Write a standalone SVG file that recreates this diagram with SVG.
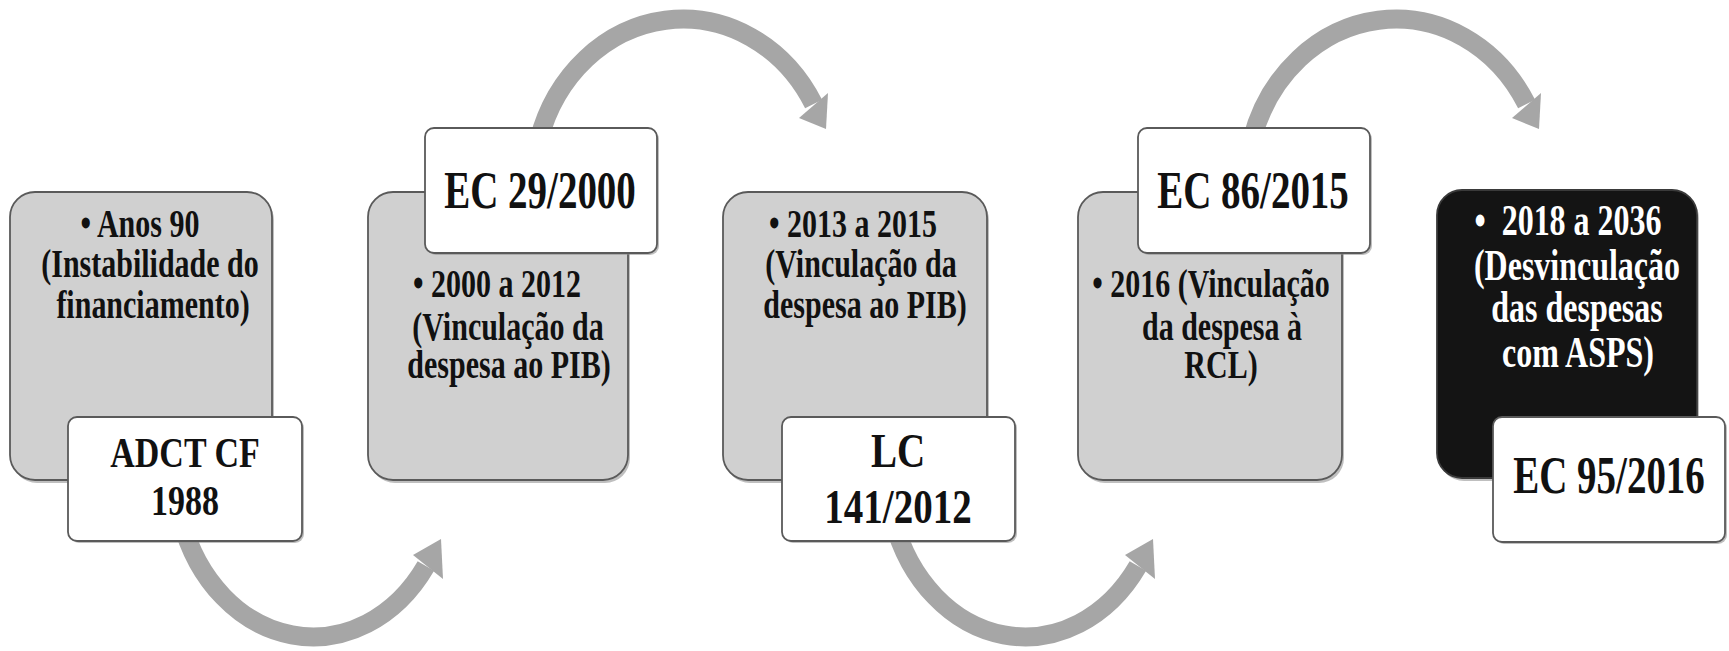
<svg xmlns="http://www.w3.org/2000/svg" width="1729" height="651" viewBox="0 0 1729 651">
<style>
.bg{fill:#ffffff}
.arc{fill:none;stroke:#a6a6a6;stroke-width:19}
.head{fill:#a6a6a6}
.gray{fill:#d0d0d0;stroke:#5a5a5a;stroke-width:1.8}
.dark{fill:#141414;stroke:#3a3a3a;stroke-width:1.8}
.white{fill:#ffffff;stroke:#5a5a5a;stroke-width:1.8}
.sh{fill:#8a8a8a;opacity:0.55}
.t{font-family:"Liberation Serif","Times New Roman",serif;font-weight:bold;text-anchor:middle;fill:#111111}
.tw{font-family:"Liberation Serif","Times New Roman",serif;font-weight:bold;text-anchor:middle;fill:#ffffff}
</style>
<rect class="bg" x="0" y="0" width="1729" height="651"/>
<g id="connectors">
  <path class="arc" d="M181.4,520 A138,167 0 0,0 425.9,566"/>
  <polygon class="head" points="413,555 441,539 443,579"/>
  <path class="arc" d="M538.8,140 A150,167 0 0,1 813.6,104"/>
  <polygon class="head" points="799,118 826,129 828,93"/>
  <path class="arc" d="M893.4,520 A138,167 0 0,0 1137.9,566"/>
  <polygon class="head" points="1125,555 1153,539 1155,579"/>
  <path class="arc" d="M1251.8,140 A150,167 0 0,1 1526.6,104"/>
  <polygon class="head" points="1512,118 1539,129 1541,93"/>
</g>
<g id="node1">
  <rect class="sh" x="12" y="195" width="262" height="288" rx="25"/>
  <rect class="gray" x="10" y="192" width="262" height="288" rx="25"/>
  <text class="t" font-size="30" transform="translate(140,237) scale(1,1.36)">• Anos 90</text>
  <text class="t" font-size="30" transform="translate(150,277) scale(1,1.36)">(Instabilidade do</text>
  <text class="t" font-size="30" transform="translate(153,318) scale(1,1.36)">financiamento)</text>
</g>
<g id="node1b">
  <rect class="sh" x="70" y="419" width="234" height="124" rx="9"/>
  <rect class="white" x="68" y="417" width="234" height="124" rx="9"/>
  <text class="t" font-size="34" transform="translate(185,467) scale(1,1.26)">ADCT CF</text>
  <text class="t" font-size="34" transform="translate(185,515) scale(1,1.26)">1988</text>
</g>
<g id="node2">
  <rect class="sh" x="370" y="195" width="260" height="288" rx="25"/>
  <rect class="gray" x="368" y="192" width="260" height="288" rx="25"/>
  <text class="t" font-size="30" transform="translate(497,297) scale(1,1.36)">• 2000 a 2012</text>
  <text class="t" font-size="30" transform="translate(508,340) scale(1,1.36)">(Vinculação da</text>
  <text class="t" font-size="30" transform="translate(509,378) scale(1,1.36)">despesa ao PIB)</text>
</g>
<g id="node2b">
  <rect class="sh" x="427" y="130" width="232" height="125" rx="9"/>
  <rect class="white" x="425" y="128" width="232" height="125" rx="9"/>
  <text class="t" font-size="39" transform="translate(540,208) scale(1,1.36)">EC 29/2000</text>
</g>
<g id="node3">
  <rect class="sh" x="725" y="195" width="264" height="288" rx="25"/>
  <rect class="gray" x="723" y="192" width="264" height="288" rx="25"/>
  <text class="t" font-size="30" transform="translate(853,237) scale(1,1.36)">• 2013 a 2015</text>
  <text class="t" font-size="30" transform="translate(861,277) scale(1,1.36)">(Vinculação da</text>
  <text class="t" font-size="30" transform="translate(865,318) scale(1,1.36)">despesa ao PIB)</text>
</g>
<g id="node3b">
  <rect class="sh" x="784" y="419" width="233" height="124" rx="9"/>
  <rect class="white" x="782" y="417" width="233" height="124" rx="9"/>
  <text class="t" font-size="39" transform="translate(898,467) scale(1,1.25)">LC</text>
  <text class="t" font-size="39" transform="translate(898,523) scale(1,1.25)">141/2012</text>
</g>
<g id="node4">
  <rect class="sh" x="1080" y="195" width="264" height="288" rx="25"/>
  <rect class="gray" x="1078" y="192" width="264" height="288" rx="25"/>
  <text class="t" font-size="30" transform="translate(1211,297) scale(1,1.36)">• 2016 (Vinculação</text>
  <text class="t" font-size="30" transform="translate(1222,340) scale(1,1.36)">da despesa à</text>
  <text class="t" font-size="30" transform="translate(1221,378) scale(1,1.36)">RCL)</text>
</g>
<g id="node4b">
  <rect class="sh" x="1140" y="130" width="232" height="125" rx="9"/>
  <rect class="white" x="1138" y="128" width="232" height="125" rx="9"/>
  <text class="t" font-size="39" transform="translate(1253,208) scale(1,1.36)">EC 86/2015</text>
</g>
<g id="node5">
  <rect class="sh" x="1439" y="193" width="260" height="288" rx="25"/>
  <rect class="dark" x="1437" y="190" width="260" height="288" rx="25"/>
  <text class="tw" font-size="32" transform="translate(1568,235) scale(1,1.4)">•&#160; 2018 a 2036</text>
  <text class="tw" font-size="32" transform="translate(1577,280) scale(1,1.4)">(Desvinculação</text>
  <text class="tw" font-size="32" transform="translate(1577,322) scale(1,1.4)">das despesas</text>
  <text class="tw" font-size="32" transform="translate(1578,367) scale(1,1.4)">com ASPS)</text>
</g>
<g id="node5b">
  <rect class="sh" x="1495" y="419" width="232" height="125" rx="9"/>
  <rect class="white" x="1493" y="417" width="232" height="125" rx="9"/>
  <text class="t" font-size="39" transform="translate(1609,493) scale(1,1.36)">EC 95/2016</text>
</g>
</svg>
